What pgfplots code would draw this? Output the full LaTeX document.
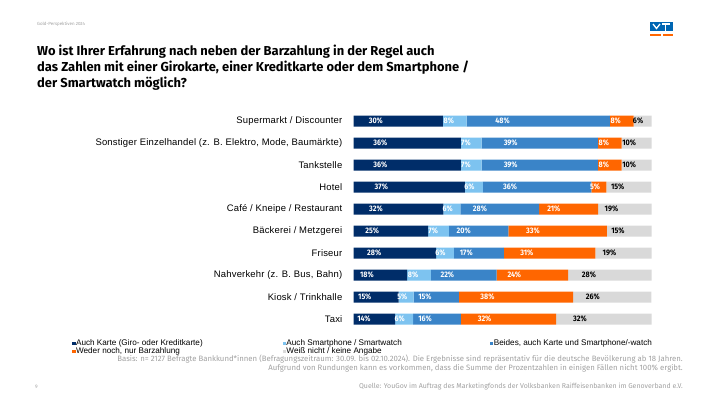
\documentclass[border=0pt]{standalone}
\usepackage{pgfplots}
\pgfplotsset{compat=1.18}
\usepackage{pgfplotstable}
\usepackage{fontspec}
\setmainfont{Liberation Sans}
\newfontfamily\titlefont{Fira Sans}
\newfontfamily\barfont[FakeStretch=0.9]{Fira Sans}
\newfontfamily\footfont{Fira Sans}
\newfontfamily\catfont[LetterSpace=2]{Liberation Sans}
\definecolor{cA}{RGB}{0,45,105}
\definecolor{cB}{RGB}{125,195,240}
\definecolor{cC}{RGB}{58,132,200}
\definecolor{cD}{RGB}{255,102,0}
\definecolor{cE}{RGB}{217,217,217}
\definecolor{footgrey}{RGB}{160,160,160}
\definecolor{vrblue}{RGB}{0,102,179}

\pgfplotstableread{
idx a b c d e
0 30 8 48 8 6
1 36 7 39 8 10
2 36 7 39 8 10
3 37 6 36 5 15
4 32 6 28 21 19
5 25 7 20 33 15
6 28 6 17 31 19
7 18 8 22 24 28
8 15 5 15 38 26
9 14 6 16 32 32
}\datatable
\pgfplotstablecreatecol[create col/expr={100*\thisrow{a}/(\thisrow{a}+\thisrow{b}+\thisrow{c}+\thisrow{d}+\thisrow{e})}]{na}\datatable
\pgfplotstablecreatecol[create col/expr={100*\thisrow{b}/(\thisrow{a}+\thisrow{b}+\thisrow{c}+\thisrow{d}+\thisrow{e})}]{nb}\datatable
\pgfplotstablecreatecol[create col/expr={100*\thisrow{c}/(\thisrow{a}+\thisrow{b}+\thisrow{c}+\thisrow{d}+\thisrow{e})}]{nc}\datatable
\pgfplotstablecreatecol[create col/expr={100*\thisrow{d}/(\thisrow{a}+\thisrow{b}+\thisrow{c}+\thisrow{d}+\thisrow{e})}]{nd}\datatable
\pgfplotstablecreatecol[create col/expr={100*\thisrow{e}/(\thisrow{a}+\thisrow{b}+\thisrow{c}+\thisrow{d}+\thisrow{e})}]{ne}\datatable

\begin{document}
\begin{tikzpicture}
\path (0bp,0bp) rectangle (710bp,399bp);
% header
\node[anchor=base west, inner sep=0pt, text=footgrey, font=\footfont\fontsize{4.5}{5}\selectfont] at (37bp,373bp) {Gold-Perspektiven 2024};
\node[anchor=base west, inner sep=0pt, font=\titlefont\bfseries\fontsize{13}{16}\selectfont] at (37bp,343bp) {Wo ist Ihrer Erfahrung nach neben der Barzahlung in der Regel auch};
\node[anchor=base west, inner sep=0pt, font=\titlefont\bfseries\fontsize{13}{16}\selectfont] at (37bp,327bp) {das Zahlen mit einer Girokarte, einer Kreditkarte oder dem Smartphone /};
\node[anchor=base west, inner sep=0pt, font=\titlefont\bfseries\fontsize{13}{16}\selectfont] at (37bp,311bp) {der Smartwatch möglich?};
% logo
\fill[vrblue] (650bp,368bp) rectangle (673bp,376.5bp);
\draw[white, line width=1.3bp] (653bp,375bp) -- (656.5bp,370.5bp) -- (660bp,375bp);
\draw[white, line width=1.3bp] (662bp,375bp) -- (670bp,375bp);
\draw[white, line width=1.3bp] (665.5bp,375bp) -- (665.5bp,368bp);
\fill[cD] (650bp,363bp) rectangle (661bp,365.3bp);
\fill[cD] (663bp,363bp) rectangle (673bp,365.3bp);
% footer
\node[anchor=base east, inner sep=0pt, text=footgrey, font=\footfont\fontsize{7.8}{8}\selectfont] at (683bp,37.5bp) {Basis: n= 2127 Befragte Bankkund*innen (Befragungszeitraum: 30.09. bis 02.10.2024). Die Ergebnisse sind repräsentativ für die deutsche Bevölkerung ab 18 Jahren.};
\node[anchor=base east, inner sep=0pt, text=footgrey, font=\footfont\fontsize{7.8}{8}\selectfont] at (683bp,28.5bp) {Aufgrund von Rundungen kann es vorkommen, dass die Summe der Prozentzahlen in einigen Fällen nicht 100\% ergibt.};
\node[anchor=base east, inner sep=0pt, text=footgrey, font=\footfont\fontsize{7}{7}\selectfont] at (683bp,10.5bp) {Quelle: YouGov im Auftrag des Marketingfonds der Volksbanken Raiffeisenbanken im Genoverband e.V.};
\node[anchor=base west, inner sep=0pt, text=footgrey, font=\footfont\fontsize{5}{6}\selectfont] at (35bp,10.5bp) {9};

\begin{axis}[
  at={(353.5bp,69bp)}, anchor=south west,
  scale only axis, width=298bp, height=220bp,
  xbar stacked, bar width=11bp,
  xmin=0, xmax=100, ymin=-0.5, ymax=9.5, y dir=reverse,
  xtick=\empty, ytick={0,...,9},
  yticklabels={Supermarkt / Discounter, {Sonstiger Einzelhandel (z. B. Elektro, Mode, Baumärkte)}, Tankstelle, Hotel, Café / Kneipe / Restaurant, Bäckerei / Metzgerei, Friseur, {Nahverkehr (z. B. Bus, Bahn)}, Kiosk / Trinkhalle, Taxi},
  yticklabel style={font=\catfont\fontsize{9.5}{10}\selectfont, inner sep=0pt, xshift=-11bp},
  axis line style={draw=none}, major tick length=0pt,
  point meta=explicit,
  visualization depends on={rawx \as \rawx},
  nodes near coords={\pgfmathprintnumber[fixed,precision=0,assume math mode=true]{\pgfplotspointmeta}\%},
  nodes near coords align={center},
  every node near coord/.append style={anchor=center, xshift={-0.745bp*\rawx}, font=\barfont\bfseries\fontsize{8}{8}\selectfont, text=white, inner sep=0pt},
  legend image code/.code={\fill[#1] (0bp,-1.7bp) rectangle (3.4bp,1.7bp);},
  legend columns=3,
  legend style={at={(axis description cs:0,0)}, anchor=north west, xshift=-281.5bp, yshift=-9bp, draw=none, fill=none, inner sep=0pt, font=\fontsize{8.2}{8}\selectfont, nodes={inner sep=0.5bp, text height=5.8bp, text depth=1.6bp}, row sep=-0.6bp},
  legend cell align=left,
]
\addplot[fill=cA, draw=none] table[x=na, y=idx, meta=a] {\datatable};
\addlegendentry{\makebox[206bp][l]{Auch Karte (Giro- oder Kreditkarte)}}
\addplot[fill=cB, draw=none] table[x=nb, y=idx, meta=b] {\datatable};
\addlegendentry{\makebox[203bp][l]{Auch Smartphone / Smartwatch}}
\addplot[fill=cC, draw=none] table[x=nc, y=idx, meta=c] {\datatable};
\addlegendentry{Beides, auch Karte und Smartphone/-watch}
\addplot[fill=cD, draw=none] table[x=nd, y=idx, meta=d] {\datatable};
\addlegendentry{\makebox[206bp][l]{Weder noch, nur Barzahlung}}
\addplot[fill=cE, draw=none, every node near coord/.append style={text=black}] table[x=ne, y=idx, meta=e] {\datatable};
\addlegendentry{\makebox[203bp][l]{Weiß nicht / keine Angabe}}
\end{axis}
\end{tikzpicture}
\end{document}
